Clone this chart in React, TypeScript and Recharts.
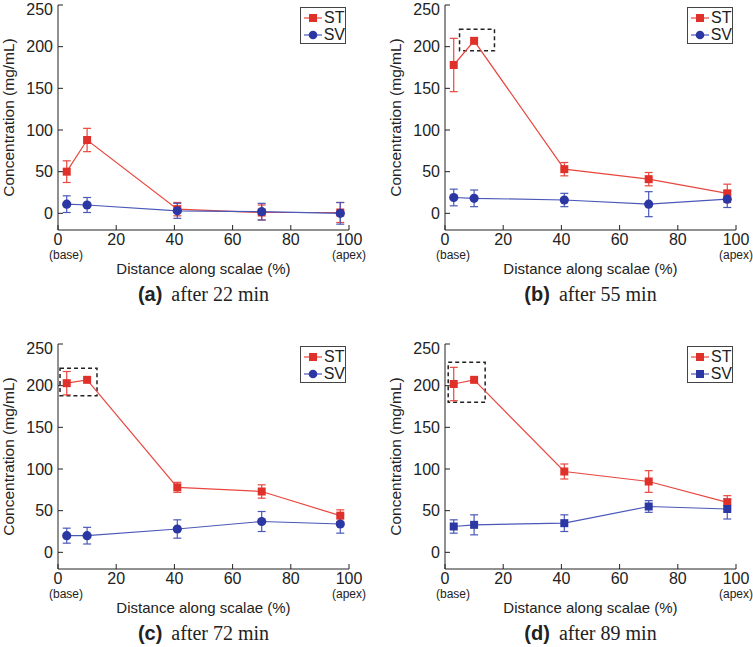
import React from 'react';
import { ComposedChart, Line, XAxis, YAxis, ErrorBar, ReferenceArea } from 'recharts';

// positions along the scala (%), shared by all four panels
const distance = [3, 10, 41, 70, 97];
const xTicks = [0, 20, 40, 60, 80, 100];
const yTicks = [0, 50, 100, 150, 200, 250];

// (a) after 22 min
const stA = [50, 88, 5, 1, 1];
const stErrA = [13, 14, 8, 9, 12];
const svA = [11, 10, 3, 2, 0];
const svErrA = [10, 9, 9, 10, 13];

// (b) after 55 min
const stB = [178, 207, 53, 41, 24];
const stErrB = [32, 0, 8, 8, 11];
const svB = [19, 18, 16, 11, 17];
const svErrB = [10, 10, 8, 15, 10];

// (c) after 72 min
const stC = [203, 207, 78, 73, 44];
const stErrC = [14, 0, 6, 8, 7];
const svC = [20, 20, 28, 37, 34];
const svErrC = [9, 10, 11, 12, 11];

// (d) after 89 min
const stD = [202, 207, 97, 85, 60];
const stErrD = [20, 0, 9, 13, 8];
const svD = [31, 33, 35, 55, 52];
const svErrD = [8, 12, 10, 7, 12];

const RED = '#e0302a';
const RED_LINE = '#e8473f';
const BLUE = '#2b37a3';
const BLUE_LINE = '#4a58b8';
const INK = '#222';
const SANS = '"Liberation Sans", Arial, sans-serif';

type Box = { x1: number; x2: number; y1: number; y2: number };

interface PanelProps {
  left: number;
  top: number;
  letter: string;
  time: string;
  st: number[];
  stErr: number[];
  sv: number[];
  svErr: number[];
  box?: Box;
  svSquare?: boolean;
}

const square = (color: string) => (p: any) => (
  <rect key={`sq-${p.index}`} x={p.cx - 4} y={p.cy - 4} width={8} height={8} fill={color} />
);
const circle = (color: string) => (p: any) => (
  <circle key={`ci-${p.index}`} cx={p.cx} cy={p.cy} r={4.6} fill={color} />
);

const XTick = (props: any) => {
  const { x, y, payload } = props;
  return (
    <g>
      <text x={x} y={y} dy="0.71em" textAnchor="middle" fontSize={16} fill={INK} fontFamily={SANS}>
        {payload.value}
      </text>
      {payload.value === 0 && (
        <text x={x + 8} y={y + 16} dy="0.71em" textAnchor="middle" fontSize={12} fill={INK} fontFamily={SANS}>
          (base)
        </text>
      )}
      {payload.value === 100 && (
        <text x={x} y={y + 16} dy="0.71em" textAnchor="middle" fontSize={12} fill={INK} fontFamily={SANS}>
          (apex)
        </text>
      )}
    </g>
  );
};

function LegendBox({ svSquare }: { svSquare?: boolean }) {
  const row = (label: string, line: string, mark: string, sq: boolean) => (
    <div style={{ display: 'flex', alignItems: 'center', height: 17 }}>
      <svg width={18} height={10} style={{ marginLeft: 3, marginRight: 2 }}>
        <line x1={0} y1={5} x2={18} y2={5} stroke={line} strokeWidth={1.2} />
        {sq ? <rect x={5} y={1} width={8} height={8} fill={mark} /> : <circle cx={9} cy={5} r={4.3} fill={mark} />}
      </svg>
      <span>{label}</span>
    </div>
  );
  return (
    <div
      style={{
        position: 'absolute',
        left: 300,
        top: 7,
        width: 46,
        height: 37,
        border: '1px solid #444',
        background: '#fff',
        fontFamily: SANS,
        fontSize: 16,
        color: INK,
        lineHeight: '17px',
        paddingTop: 1,
        boxSizing: 'border-box',
      }}
    >
      {row('ST', RED_LINE, RED, true)}
      {row('SV', BLUE_LINE, BLUE, !!svSquare)}
    </div>
  );
}

function Panel({ left, top, letter, time, st, stErr, sv, svErr, box, svSquare }: PanelProps) {
  const data = distance.map((d, i) => ({
    d,
    st: st[i],
    stErr: stErr[i],
    sv: sv[i],
    svErr: svErr[i],
  }));

  return (
    <div style={{ position: 'absolute', left, top, width: 376, height: 320 }}>
      <ComposedChart width={376} height={280} data={data} margin={{ top: 5, right: 27, bottom: 0, left: 0 }}>
        <XAxis
          dataKey="d"
          type="number"
          domain={[0, 100]}
          ticks={xTicks}
          height={50}
          tickSize={-5}
          tickMargin={9}
          stroke={INK}
          tick={<XTick />}
          label={{
            value: 'Distance along scalae (%)',
            position: 'insideBottom',
            offset: 6,
            fill: INK,
            fontSize: 15,
            fontFamily: SANS,
          }}
        />
        <XAxis
          xAxisId="top"
          orientation="top"
          mirror
          type="number"
          domain={[0, 100]}
          ticks={xTicks}
          height={0}
          tickSize={5}
          tick={false}
          stroke={INK}
        />
        <YAxis
          type="number"
          domain={[-20, 250]}
          ticks={yTicks}
          width={58}
          tickSize={-5}
          tickMargin={10}
          stroke={INK}
          tick={{ fill: INK, fontSize: 16, fontFamily: SANS }}
          label={{
            value: 'Concentration (mg/mL)',
            angle: -90,
            position: 'insideLeft',
            offset: 8,
            fill: INK,
            fontSize: 15.5,
            fontFamily: SANS,
            style: { textAnchor: 'middle' },
          }}
        />
        <YAxis
          yAxisId="right"
          orientation="right"
          mirror
          type="number"
          domain={[-20, 250]}
          ticks={yTicks}
          width={0}
          tickSize={5}
          tick={false}
          stroke={INK}
        />
        {box && (
          <ReferenceArea
            x1={box.x1}
            x2={box.x2}
            y1={box.y1}
            y2={box.y2}
            fill="none"
            fillOpacity={0}
            stroke={INK}
            strokeWidth={1.5}
            strokeDasharray="4 3"
            ifOverflow="visible"
          />
        )}
        <Line
          dataKey="st"
          stroke={RED_LINE}
          strokeWidth={1.2}
          dot={square(RED)}
          activeDot={false}
          isAnimationActive={false}
        >
          <ErrorBar dataKey="stErr" direction="y" width={4} stroke={RED_LINE} strokeWidth={1.2} isAnimationActive={false} />
        </Line>
        <Line
          dataKey="sv"
          stroke={BLUE_LINE}
          strokeWidth={1.2}
          dot={svSquare ? square(BLUE) : circle(BLUE)}
          activeDot={false}
          isAnimationActive={false}
        >
          <ErrorBar dataKey="svErr" direction="y" width={4} stroke={BLUE_LINE} strokeWidth={1.2} isAnimationActive={false} />
        </Line>
      </ComposedChart>
      <LegendBox svSquare={svSquare} />
      <div
        style={{
          position: 'absolute',
          left: 58,
          width: 291,
          top: 283,
          textAlign: 'center',
          fontSize: 20,
          color: INK,
          whiteSpace: 'nowrap',
        }}
      >
        <span style={{ fontFamily: SANS, fontWeight: 'bold' }}>({letter})</span>
        <span style={{ fontFamily: '"Liberation Serif", serif', marginLeft: 9 }}>after {time} min</span>
      </div>
    </div>
  );
}

export default function App() {
  return (
    <div style={{ position: 'absolute', left: 0, top: 0, width: 753, height: 647, background: '#fff' }}>
      <Panel left={0} top={0} letter="a" time="22" st={stA} stErr={stErrA} sv={svA} svErr={svErrA} />
      <Panel
        left={387}
        top={0}
        letter="b"
        time="55"
        st={stB}
        stErr={stErrB}
        sv={svB}
        svErr={svErrB}
        box={{ x1: 5, x2: 17, y1: 195, y2: 221 }}
      />
      <Panel
        left={0}
        top={339}
        letter="c"
        time="72"
        st={stC}
        stErr={stErrC}
        sv={svC}
        svErr={svErrC}
        box={{ x1: 0.7, x2: 13.4, y1: 188, y2: 221 }}
      />
      <Panel
        left={387}
        top={339}
        letter="d"
        time="89"
        st={stD}
        stErr={stErrD}
        sv={svD}
        svErr={svErrD}
        box={{ x1: 1.1, x2: 13.8, y1: 180, y2: 228 }}
        svSquare
      />
    </div>
  );
}
